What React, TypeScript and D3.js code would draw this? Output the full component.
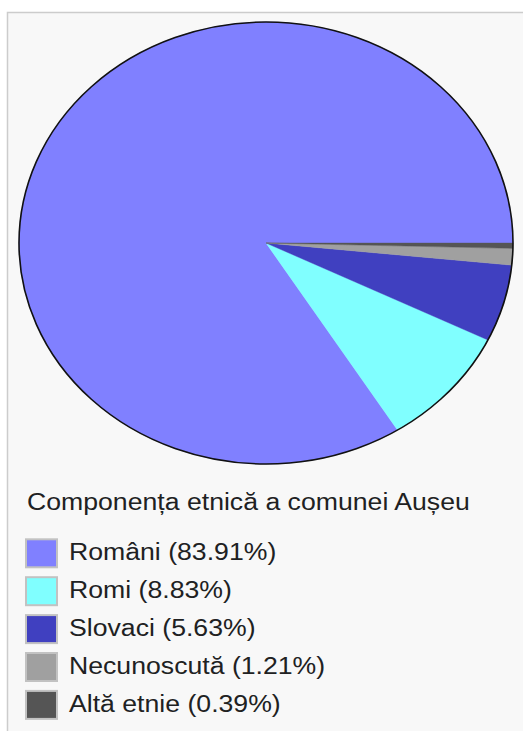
import React from "react";
import * as d3 from "d3";

const categories = ["Români", "Romi", "Slovaci", "Necunoscută", "Altă etnie"];
const values = [83.91, 8.83, 5.63, 1.21, 0.39];
const colors = ["#8080ff", "#80ffff", "#4040c0", "#a0a0a0", "#555555"];
const title = "Componența etnică a comunei Aușeu";

const W = 523;
const H = 731;
const cx = 266;
const cy = 243;
const rx = 247;
const ry = 221;
const sx = 1.12;

function pt(a: number): [number, number] {
  return [cx + rx * Math.sin(a), cy - ry * Math.cos(a)];
}

export default function App() {
  const pie = d3
    .pie<number>()
    .sort(null)
    .startAngle(Math.PI / 2)
    .endAngle(Math.PI / 2 - 2 * Math.PI);
  const arcs = pie(values);

  const legendY = d3
    .scaleLinear()
    .domain([0, categories.length - 1])
    .range([538.3, 538.3 + 37.9 * (categories.length - 1)]);

  return (
    <svg
      width={W}
      height={H}
      style={{ position: "absolute", left: 0, top: 0 }}
      fontFamily="'Liberation Sans', Arial, sans-serif"
    >
      <rect x={0} y={0} width={W} height={H} fill="#ffffff" />
      <rect x={7.5} y={12.5} width={W + 20} height={H + 20} fill="#f8f8f8" stroke="#cccccc" strokeWidth={1.5} />
      {arcs.map((d, i) => {
        const p0 = pt(d.startAngle);
        const p1 = pt(d.endAngle);
        const span = Math.abs(d.endAngle - d.startAngle);
        const large = span > Math.PI ? 1 : 0;
        const path = d3.path();
        path.moveTo(cx, cy);
        path.lineTo(p0[0], p0[1]);
        const dstr =
          `M${cx},${cy}L${p0[0]},${p0[1]}` +
          `A${rx},${ry} 0 ${large} 0 ${p1[0]},${p1[1]}Z`;
        return (
          <path key={categories[i]} d={dstr} fill={colors[i]} stroke={colors[i]} strokeWidth={0.4} />
        );
      })}
      <ellipse cx={cx} cy={cy} rx={rx} ry={ry} fill="none" stroke="#111" strokeWidth={1.6} />
      <g transform={`translate(27,510) scale(${sx},1)`}>
        <text fontSize={23.8} fill="#202122">{title}</text>
      </g>
      {categories.map((c, i) => {
        const y = legendY(i);
        return (
          <g key={c}>
            <rect x={26} y={y + 1} width={31} height={28} fill={colors[i]} stroke="#c2c2c2" strokeWidth={2} />
            <g transform={`translate(69,${y + 22}) scale(${sx},1)`}>
              <text fontSize={23.8} fill="#202122">{`${c} (${values[i].toFixed(2)}%)`}</text>
            </g>
          </g>
        );
      })}
    </svg>
  );
}
